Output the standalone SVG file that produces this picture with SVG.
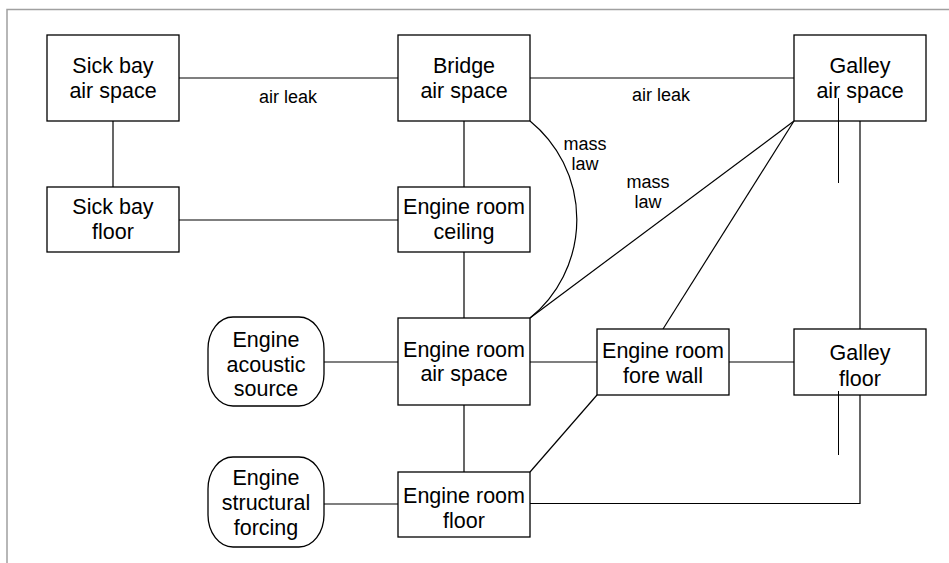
<svg xmlns="http://www.w3.org/2000/svg" width="949" height="563" viewBox="0 0 949 563">
<style>
.box{fill:#fff;stroke:#000;stroke-width:1.3}
.ln{fill:none;stroke:#000;stroke-width:1.2}
.thin{fill:none;stroke:#000;stroke-width:1}
.t{font-family:"Liberation Sans",Arial,sans-serif;font-size:21.5px;fill:#000;text-anchor:middle}
.l{font-family:"Liberation Sans",Arial,sans-serif;font-size:18px;fill:#000;text-anchor:middle}
</style>
<rect width="949" height="563" fill="#fff"/>
<path d="M7 563 V9.5 H949" fill="none" stroke="#a0a0a0" stroke-width="1.5"/>
<g id="connectors">
<line class="ln" x1="179" y1="78" x2="398" y2="78"/>
<line class="ln" x1="530" y1="78" x2="794" y2="78"/>
<line class="ln" x1="113" y1="121" x2="113" y2="187"/>
<line class="ln" x1="179" y1="220" x2="398" y2="220"/>
<line class="ln" x1="464" y1="121" x2="464" y2="187"/>
<line class="ln" x1="464" y1="252" x2="464" y2="318"/>
<path class="ln" d="M530 121 A127 127 0 0 1 530 318"/>
<line class="ln" x1="794" y1="121" x2="530" y2="318"/>
<line class="ln" x1="794" y1="121" x2="663" y2="329"/>
<line class="ln" x1="860" y1="121" x2="860" y2="329"/>
<line class="ln" x1="324" y1="362" x2="398" y2="362"/>
<line class="ln" x1="530" y1="362" x2="597" y2="362"/>
<line class="ln" x1="729" y1="362" x2="794" y2="362"/>
<line class="ln" x1="464" y1="405" x2="464" y2="472"/>
<line class="ln" x1="597" y1="395" x2="530" y2="472"/>
<line class="ln" x1="324" y1="504" x2="398" y2="504"/>
<path class="ln" d="M530 503.5 H860 V395"/>
<text class="l" x="288" y="103">air leak</text>
<text class="l" x="661" y="101">air leak</text>
<text class="l" x="585" y="150">mass</text>
<text class="l" x="585" y="170">law</text>
<text class="l" x="648" y="188">mass</text>
<text class="l" x="648" y="208">law</text>
</g>
<g id="sickbay-air"><rect class="box" x="47" y="35" width="132" height="86"/><text class="t" x="113" y="73">Sick bay</text><text class="t" x="113" y="98">air space</text></g>
<g id="bridge-air"><rect class="box" x="398" y="35" width="132" height="86"/><text class="t" x="464" y="73">Bridge</text><text class="t" x="464" y="98">air space</text></g>
<g id="galley-air"><rect class="box" x="794" y="35" width="132" height="86"/><text class="t" x="860" y="73">Galley</text><text class="t" x="860" y="98">air space</text><line class="thin" x1="838.5" y1="98" x2="838.5" y2="183"/></g>
<g id="sickbay-floor"><rect class="box" x="47" y="187" width="132" height="65"/><text class="t" x="113" y="214">Sick bay</text><text class="t" x="113" y="239">floor</text></g>
<g id="er-ceiling"><rect class="box" x="398" y="187" width="132" height="65"/><text class="t" x="464" y="214">Engine room</text><text class="t" x="464" y="239">ceiling</text></g>
<g id="acoustic-source"><rect class="box" x="208" y="317" width="116" height="89" rx="25" ry="32"/><text class="t" x="266" y="347">Engine</text><text class="t" x="266" y="371.5">acoustic</text><text class="t" x="266" y="396">source</text></g>
<g id="er-air"><rect class="box" x="398" y="318" width="132" height="87"/><text class="t" x="464" y="357">Engine room</text><text class="t" x="464" y="381">air space</text></g>
<g id="er-forewall"><rect class="box" x="597" y="329" width="132" height="66"/><text class="t" x="663" y="358">Engine room</text><text class="t" x="663" y="383">fore wall</text></g>
<g id="galley-floor"><rect class="box" x="794" y="329" width="132" height="66"/><text class="t" x="860" y="360">Galley</text><text class="t" x="860" y="386">floor</text><line class="thin" x1="838.5" y1="391" x2="838.5" y2="455"/></g>
<g id="structural-forcing"><rect class="box" x="208" y="457" width="116" height="90" rx="25" ry="32"/><text class="t" x="266" y="485">Engine</text><text class="t" x="266" y="510">structural</text><text class="t" x="266" y="535">forcing</text></g>
<g id="er-floor"><rect class="box" x="398" y="472" width="132" height="65"/><text class="t" x="464" y="503">Engine room</text><text class="t" x="464" y="528">floor</text></g>
</svg>
